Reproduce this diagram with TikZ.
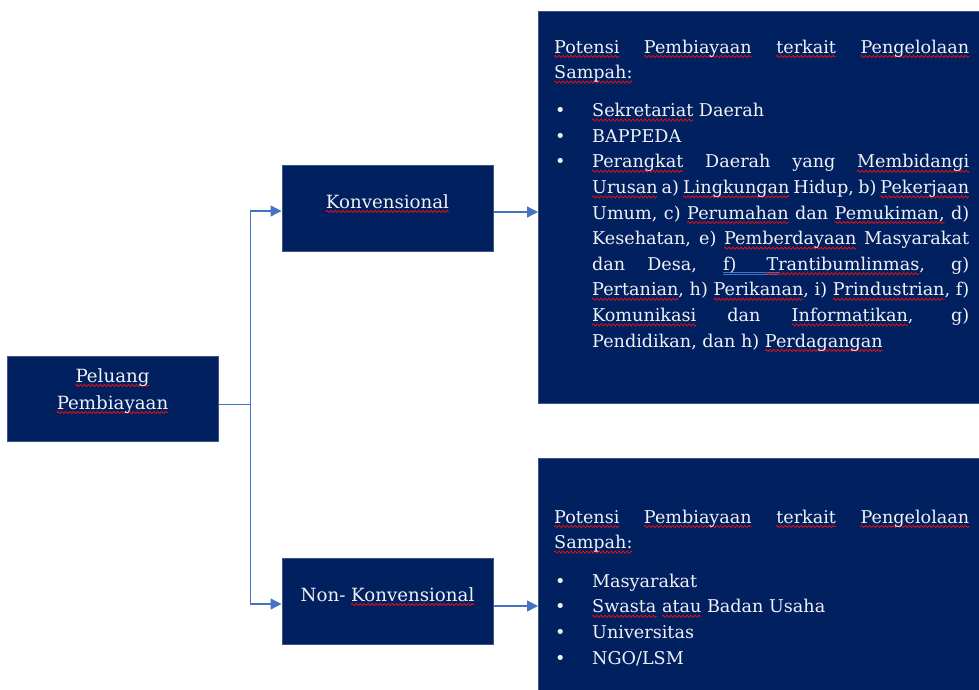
\documentclass[tikz,border=0pt]{standalone}
\usepackage{fontspec}
\setmainfont{DejaVu Serif}
\usetikzlibrary{arrows.meta,decorations.pathmorphing}

\definecolor{navy}{HTML}{002060}
\definecolor{boxedge}{HTML}{3E5482}
\definecolor{link}{HTML}{4472C4}
\definecolor{squig}{HTML}{E01010}
\definecolor{ink}{HTML}{F2F2F6}

% red wavy spell-check underline under a word
\newsavebox\sqbox
\newlength\sqw
\newcommand\sq[1]{\leavevmode\sbox\sqbox{#1}\setlength\sqw{\wd\sqbox}%
  \rlap{\tikz[overlay,baseline=0pt]\draw[squig,line width=.8pt,decorate,
    decoration={zigzag,segment length=4pt,amplitude=1.1pt}] (0pt,-3.5pt) -- (\sqw,-3.5pt);}%
  \usebox\sqbox}
% bullet item with hanging indent
\newcommand\bul{\par\noindent\hangindent=38pt\hangafter=1\makebox[38pt][l]{\hspace{1pt}\textbullet}}
% blue double underline running under "f)" and the gap after it
\newcommand\fgap{\leavevmode\rlap{\textcolor{link}{\raisebox{-5pt}{\vbox{\hrule width 56pt height .8pt\kern1.2pt\hrule width 56pt height .8pt}}}}}

\tikzset{
  box/.style={draw=boxedge, line width=1pt, fill=navy, inner sep=0pt},
  txt/.style={text=ink, inner sep=0pt, font=\fontsize{18.2}{27}\selectfont},
  para/.style={text=ink, inner sep=0pt, text width=415pt, align=justify,
    font=\fontsize{17.6}{25.6}\selectfont},
  link/.style={draw=link, line width=1.3pt},
  arr/.style={link, -{Triangle[length=11pt,width=11pt]}},
}

\begin{document}
\begin{tikzpicture}[x=1pt, y=-1pt]
\useasboundingbox (0,0) rectangle (979,689);

% boxes
\node[box, minimum width=211pt, minimum height=85pt] (pel) at (112.5,398.5) {};
\node[box, minimum width=211pt, minimum height=86pt] (konv) at (387.5,208) {};
\node[box, minimum width=211pt, minimum height=86pt] (nonk) at (387.5,601) {};
\path[box] (538,11) rectangle (990,403);
\path[box] (538,458) rectangle (990,700);
\coordinate (pot1) at (538,212);
\coordinate (pot2) at (538,606);

% labels of the small boxes
\node[txt, anchor=base] (pelA) at (112.5,382) {\sq{Peluang}};
\node[txt, anchor=base] (pelB) at (112.5,409) {\sq{Pembiayaan}};
\node[txt, anchor=base] (konvT) at (387.5,208) {\sq{Konvensional}};
\node[txt, anchor=base] (nonkT) at (387.5,601) {Non- \sq{Konvensional}};

% connectors
\draw[link] ([yshift=-6pt]pel.east) -- ++(32,0) coordinate (fork);
\draw[arr] (fork) |- ([yshift=-3pt]konv.west);
\draw[arr] (fork) |- ([yshift=-3pt]nonk.west);
\draw[arr] ([yshift=-4pt]konv.east) -- (pot1);
\draw[arr] ([yshift=-5pt]nonk.east) -- (pot2);

% text of the large boxes
\node[para, anchor=base west] (list1) at (554,53) {%
\parindent=0pt
\sq{Potensi} \sq{Pembiayaan} \sq{terkait} \sq{Pengelolaan}\linebreak
\sq{Sampah:}\par\vspace{12.4pt}
\bul \sq{Sekretariat} Daerah
\bul BAPPEDA
\bul \sq{Perangkat} Daerah yang \sq{Membidangi}\linebreak
\sq{Urusan} a) \sq{Lingkungan} Hidup, b) \sq{Pekerjaan}\linebreak
Umum, c) \sq{Perumahan} dan \sq{Pemukiman,} d)\linebreak
Kesehatan, e) \sq{Pemberdayaan} Masyarakat\linebreak
dan Desa, \fgap f)\hspace{30pt}\sq{Trantibumlinmas}, g)\linebreak
\sq{Pertanian}, h) \sq{Perikanan}, i) \sq{Prindustrian}, f)\linebreak
\sq{Komunikasi} dan \sq{Informatikan}, g)\linebreak
Pendidikan, dan h) \sq{Perdagangan}\par};

\node[para, anchor=base west] (list2) at (554,523) {%
\parindent=0pt
\sq{Potensi} \sq{Pembiayaan} \sq{terkait} \sq{Pengelolaan}\linebreak
\sq{Sampah:}\par\vspace{13pt}
\bul Masyarakat
\bul \sq{Swasta} \sq{atau} Badan Usaha
\bul Universitas
\bul NGO/LSM\par};
\end{tikzpicture}
\end{document}
